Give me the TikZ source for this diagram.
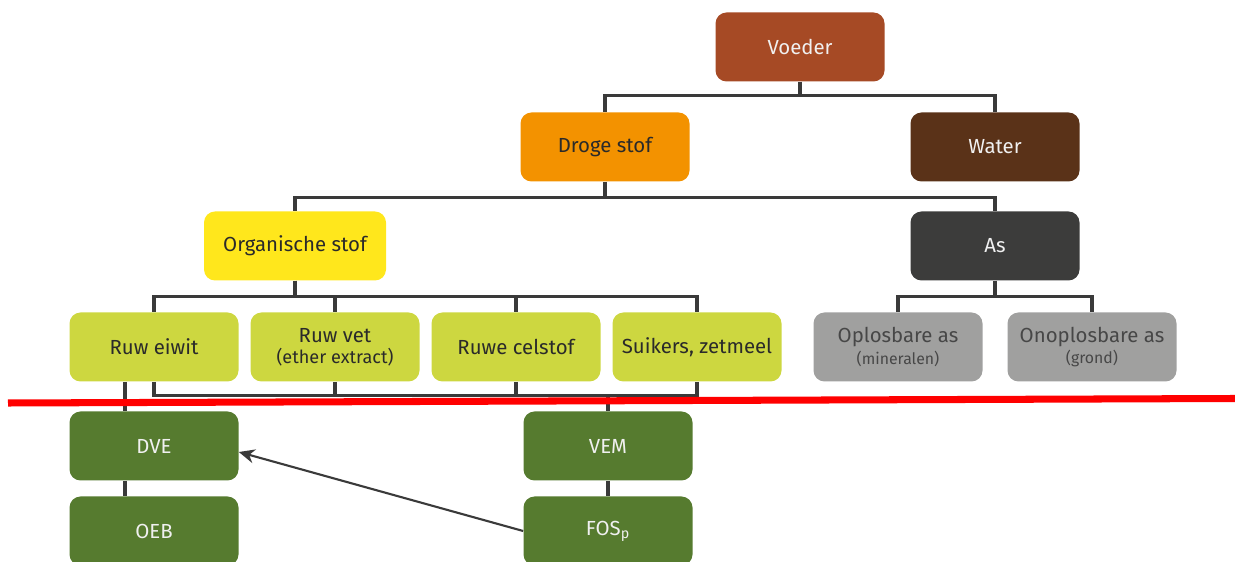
\documentclass[tikz,border=0pt]{standalone}
\usepackage{fontspec}
\setmainfont{Fira Sans}
\usepackage{tikz}
\usetikzlibrary{arrows.meta,positioning}
\definecolor{voedercol}{HTML}{A64A25}
\definecolor{drogecol}{HTML}{F39200}
\definecolor{watercol}{HTML}{5A3218}
\definecolor{orgcol}{HTML}{FFE71C}
\definecolor{ascol}{HTML}{3C3C3B}
\definecolor{lichtgroen}{HTML}{CDD740}
\definecolor{grijs}{HTML}{A0A09F}
\definecolor{donkergroen}{HTML}{567B2F}
\definecolor{lijncol}{HTML}{3A3A3A}
\definecolor{tekstcol}{HTML}{2A2A2A}
\tikzset{
    blok/.style={
           rectangle,
           rounded corners=0.22cm,
           minimum width=3.38cm,
           minimum height=1.38cm,
           inner sep=2pt,
           text centered,
           align=center,
           font=\fontsize{11.6}{14}\selectfont,
           },
    donker/.style={blok, text=white!94!black},
    licht/.style={blok, fill=lichtgroen, text=tekstcol},
    grijsblok/.style={blok, fill=grijs, text=black!72},
    lijn/.style={draw=lijncol, line width=1.8pt},
}

\begin{document}
\begin{tikzpicture}[x=1cm,y=1cm]
\useasboundingbox (0,0) rectangle (24.7,-11.24);
\node[donker,fill=voedercol](voeder) at (16,-0.94){Voeder};
\node[blok,fill=drogecol,text=tekstcol,below of=voeder,node distance=2cm,xshift=-3.9cm](drogestof){Droge stof};
\node[donker,fill=watercol,below of=voeder,node distance=2cm,xshift=3.9cm](water){Water};
\node[blok,fill=orgcol,text=tekstcol,minimum width=3.64cm,below of=drogestof,node distance=1.98cm,xshift=-6.2cm](orgstof){Organische stof};
\node[donker,fill=ascol,below of=water,node distance=1.98cm](as){As};
\node[licht,below of=orgstof,node distance=2.02cm,xshift=-2.82cm](ruweiwit){Ruw eiwit};
\node[licht,below of=orgstof,node distance=2.02cm,xshift=0.8cm](ruwvet){Ruw vet\\[-2pt]{\fontsize{10.3}{12}\selectfont (ether extract)}};
\node[licht,below of=orgstof,node distance=2.02cm,xshift=4.42cm](ruwecelstof){Ruwe celstof};
\node[licht,below of=orgstof,node distance=2.02cm,xshift=8.04cm](suikers){Suikers, zetmeel};
\node[grijsblok,below of=as,node distance=2.02cm,xshift=-1.94cm](oplosbaar){Oplosbare as\\[-2pt]{\fontsize{9}{11}\selectfont (mineralen)}};
\node[grijsblok,below of=as,node distance=2.02cm,xshift=1.94cm](onoplosbaar){Onoplosbare as\\[-2pt]{\fontsize{9}{11}\selectfont (grond)}};
\node[donker,fill=donkergroen,below of=ruweiwit,node distance=1.98cm](dve){DVE};
\node[donker,fill=donkergroen,below of=dve,node distance=1.7cm](oeb){OEB};
\node[donker,fill=donkergroen,below of=ruwecelstof,node distance=1.98cm,xshift=1.84cm](vem){VEM};
\node[donker,fill=donkergroen,below of=vem,node distance=1.7cm](fosp){FOS\textsubscript{p}};

% boom
\draw[lijn] (voeder.south) -- ++(0,-0.28) -| (drogestof.north);
\draw[lijn] (voeder.south) -- ++(0,-0.28) -| (water.north);
\draw[lijn] (drogestof.south) -- ++(0,-0.32) -| (orgstof.north);
\draw[lijn] (drogestof.south) -- ++(0,-0.32) -| (as.north);
\draw[lijn] (orgstof.south) -- ++(0,-0.32) -| (ruweiwit.north);
\draw[lijn] (orgstof.south) -- ++(0,-0.32) -| (ruwvet.north);
\draw[lijn] (orgstof.south) -- ++(0,-0.32) -| (ruwecelstof.north);
\draw[lijn] (orgstof.south) -- ++(0,-0.32) -| (suikers.north);
\draw[lijn] (as.south) -- ++(0,-0.32) -| (oplosbaar.north);
\draw[lijn] (as.south) -- ++(0,-0.32) -| (onoplosbaar.north);

% onder de lijn
\draw[lijn] (ruweiwit.south) -- ++(0,-0.28) -| (vem.north);
\draw[lijn] (ruwvet.south) -- ++(0,-0.28) -| (vem.north);
\draw[lijn] (ruwecelstof.south) -- ++(0,-0.28) -| (vem.north);
\draw[lijn] (suikers.south) -- ++(0,-0.28) -| (vem.north);
\draw[lijn] ([xshift=-0.58cm]ruweiwit.south) -- ([xshift=-0.58cm]dve.north);
\draw[lijn] ([xshift=-0.58cm]dve.south) -- ([xshift=-0.58cm]oeb.north);
\draw[lijn] (vem.south) -- (fosp.north);
\draw[draw=lijncol,line width=1.2pt,-{Stealth[length=9pt,width=8pt]}] (fosp.west) -- ([yshift=-0.12cm]dve.east);

% rode lijn
\coordinate (rood1) at (0.16,-8.06);
\coordinate (rood2) at (24.7,-7.97);
\draw[red,line width=4pt] (rood1) -- (rood2);
\end{tikzpicture}
\end{document}
